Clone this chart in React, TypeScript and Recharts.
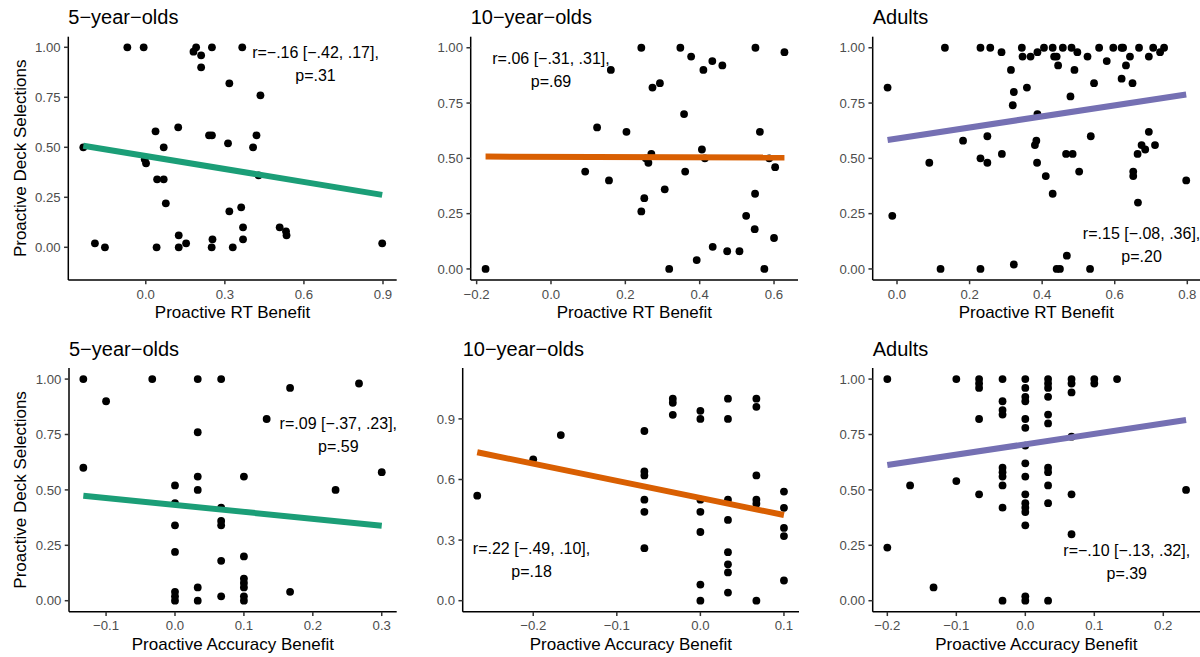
import React from 'react';
import { ScatterChart, Scatter, XAxis, YAxis, ReferenceDot } from 'recharts';

const FONT = '"Liberation Sans", Arial, Helvetica, sans-serif';
const MINUS = '\u2212';

type Pt = [number, number];

// Group colours for the fitted lines
const GREEN = '#1B9E77';
const ORANGE = '#D95F02';
const PURPLE = '#7570B3';

const groupTitles = ['5\u2212year\u2212olds', '10\u2212year\u2212olds', 'Adults'];
const rtAxisTitle = 'Proactive RT Benefit';
const accAxisTitle = 'Proactive Accuracy Benefit';
const deckAxisTitle = 'Proactive Deck Selections';

// RT benefit vs. deck selections
const rt5: Pt[] = [
  [-0.07, 1.0], [-0.008, 1.0], [0.181, 0.978], [0.191, 1.0], [0.21, 0.96], [0.251, 1.0],
  [0.366, 1.0], [0.21, 0.9], [0.317, 0.82], [0.435, 0.76], [0.123, 0.6], [0.037, 0.58],
  [0.24, 0.56], [0.251, 0.56], [0.42, 0.56], [0.312, 0.52], [0.407, 0.5], [0.068, 0.5],
  [-0.237, 0.5], [-0.004, 0.44], [0.001, 0.42], [0.043, 0.34], [0.068, 0.34], [0.428, 0.36],
  [0.076, 0.22], [0.317, 0.18], [0.362, 0.2], [0.369, 0.1], [0.369, 0.04], [0.508, 0.1],
  [0.532, 0.08], [0.534, 0.06], [-0.193, 0.02], [-0.155, 0.0], [0.041, 0.0], [0.125, 0.06],
  [0.125, 0.0], [0.153, 0.02], [0.253, 0.04], [0.25, 0.0], [0.33, 0.0], [0.897, 0.02],
];
const rt5Fit: Pt[] = [[-0.237, 0.508], [0.897, 0.262]];
const rt5Stats = ['r=\u2212.16 [\u2212.42, .17],', 'p=.31'];

const rt10: Pt[] = [
  [-0.176, 0.0], [0.092, 0.44], [0.124, 0.64], [0.161, 0.9], [0.156, 0.4], [0.203, 0.62],
  [0.243, 1.0], [0.243, 0.26], [0.251, 0.32], [0.273, 0.82], [0.293, 0.84], [0.27, 0.52],
  [0.262, 0.48], [0.255, 0.5], [0.306, 0.36], [0.318, 0.0], [0.348, 1.0], [0.377, 0.96],
  [0.358, 0.7], [0.361, 0.44], [0.392, 0.04], [0.406, 0.54], [0.41, 0.9], [0.414, 0.5],
  [0.434, 0.94], [0.435, 0.1], [0.461, 0.92], [0.474, 0.08], [0.507, 0.08], [0.525, 0.24],
  [0.548, 0.18], [0.549, 0.34], [0.55, 1.0], [0.562, 0.62], [0.574, 0.0], [0.587, 0.5],
  [0.603, 0.46], [0.6, 0.14], [0.628, 0.98],
];
const rt10Fit: Pt[] = [[-0.176, 0.508], [0.628, 0.504]];
const rt10Stats = ['r=.06 [\u2212.31, .31],', 'p=.69'];

const rtAdult: Pt[] = [
  [-0.026, 0.82], [-0.013, 0.24], [0.089, 0.48], [0.12, 0.0], [0.132, 1.0], [0.182, 0.58],
  [0.23, 1.0], [0.23, 0.5], [0.23, 0.0], [0.249, 0.6], [0.249, 0.48], [0.257, 1.0],
  [0.288, 0.98], [0.289, 0.52], [0.314, 0.9], [0.322, 0.8], [0.319, 0.74], [0.322, 0.02],
  [0.344, 1.0], [0.346, 0.96], [0.358, 0.82], [0.368, 0.96], [0.387, 0.98], [0.38, 0.56],
  [0.384, 0.58], [0.387, 0.7], [0.386, 0.48], [0.405, 1.0], [0.41, 0.42], [0.429, 1.0],
  [0.433, 0.96], [0.44, 0.96], [0.444, 0.92], [0.429, 0.34], [0.44, 0.0], [0.449, 0.0],
  [0.468, 0.06], [0.457, 1.0], [0.478, 0.78], [0.466, 0.52], [0.484, 0.52], [0.481, 1.0],
  [0.497, 0.98], [0.489, 0.9], [0.502, 0.44], [0.525, 0.96], [0.532, 0.0], [0.534, 0.6],
  [0.543, 0.84], [0.557, 1.0], [0.578, 0.94], [0.596, 1.0], [0.619, 1.0], [0.623, 1.0],
  [0.619, 0.86], [0.631, 0.92], [0.642, 0.96], [0.649, 0.84], [0.651, 0.44], [0.651, 0.42],
  [0.664, 0.3], [0.663, 0.52], [0.667, 1.0], [0.674, 0.56], [0.684, 0.54], [0.694, 0.62],
  [0.694, 0.96], [0.706, 1.0], [0.711, 0.56], [0.725, 0.98], [0.736, 1.0], [0.797, 0.4],
];
const rtAdultFit: Pt[] = [[-0.026, 0.583], [0.797, 0.789]];
const rtAdultStats = ['r=.15 [\u2212.08, .36],', 'p=.20'];

// Accuracy benefit vs. deck selections
const acc5: Pt[] = [
  [-0.133, 1.0], [-0.133, 0.6], [-0.1, 0.9], [-0.033, 1.0], [0.033, 1.0], [0.067, 1.0],
  [0.033, 0.76], [0.033, 0.56], [0.033, 0.5], [0.0, 0.52], [0.0, 0.44], [0.0, 0.34],
  [0.0, 0.22], [0.0, 0.04], [0.0, 0.02], [0.0, 0.0], [0.033, 0.06], [0.033, 0.0],
  [0.067, 0.42], [0.067, 0.36], [0.067, 0.34], [0.067, 0.18], [0.067, 0.02], [0.1, 0.56],
  [0.1, 0.2], [0.1, 0.1], [0.1, 0.08], [0.1, 0.06], [0.1, 0.02], [0.1, 0.0],
  [0.133, 0.82], [0.167, 0.96], [0.167, 0.04], [0.233, 0.5], [0.267, 0.98], [0.3, 0.58],
];
const acc5Fit: Pt[] = [[-0.133, 0.474], [0.3, 0.338]];
const acc5Stats = ['r=.09 [\u2212.37, .23],', 'p=.59'];

const acc10: Pt[] = [
  [-0.267, 0.52], [-0.2, 0.7], [-0.167, 0.82], [-0.067, 0.84], [-0.067, 0.64], [-0.067, 0.62],
  [-0.067, 0.5], [-0.067, 0.44], [-0.067, 0.26], [-0.033, 1.0], [-0.033, 0.98], [-0.033, 0.92],
  [0.0, 0.94], [0.0, 0.9], [0.0, 0.5], [0.0, 0.44], [0.0, 0.34], [0.0, 0.08], [0.0, 0.0],
  [0.033, 1.0], [0.033, 0.9], [0.033, 0.5], [0.033, 0.4], [0.033, 0.24], [0.033, 0.18],
  [0.033, 0.14], [0.033, 0.04], [0.067, 1.0], [0.067, 0.96], [0.067, 0.62], [0.067, 0.5],
  [0.067, 0.48], [0.067, 0.0], [0.1, 0.54], [0.1, 0.46], [0.1, 0.36], [0.1, 0.32], [0.1, 0.1],
];
const acc10Fit: Pt[] = [[-0.267, 0.735], [0.1, 0.424]];
const acc10Stats = ['r=.22 [\u2212.49, .10],', 'p=.18'];

const accAdult: Pt[] = [
  [-0.2, 1.0], [-0.2, 0.24], [-0.167, 0.52], [-0.133, 0.06], [-0.1, 1.0], [-0.1, 0.54],
  [-0.067, 1.0], [-0.067, 0.98], [-0.067, 0.96], [-0.067, 0.82], [-0.067, 0.48],
  [-0.033, 1.0], [-0.033, 0.9], [-0.033, 0.86], [-0.033, 0.84], [-0.033, 0.6], [-0.033, 0.58],
  [-0.033, 0.56], [-0.033, 0.52], [-0.033, 0.42], [-0.033, 0.0],
  [0.0, 1.0], [0.0, 0.96], [0.0, 0.92], [0.0, 0.9], [0.0, 0.82], [0.0, 0.78], [0.0, 0.7],
  [0.0, 0.62], [0.0, 0.56], [0.0, 0.48], [0.0, 0.44], [0.0, 0.42], [0.0, 0.4], [0.0, 0.34],
  [0.0, 0.02], [0.0, 0.0],
  [0.033, 1.0], [0.033, 0.98], [0.033, 0.96], [0.033, 0.92], [0.033, 0.84], [0.033, 0.8],
  [0.033, 0.6], [0.033, 0.58], [0.033, 0.52], [0.033, 0.44], [0.033, 0.0],
  [0.067, 1.0], [0.067, 0.98], [0.067, 0.94], [0.067, 0.74], [0.067, 0.48], [0.067, 0.3],
  [0.1, 1.0], [0.1, 0.98], [0.133, 1.0], [0.233, 0.5],
];
const accAdultFit: Pt[] = [[-0.2, 0.612], [0.233, 0.815]];
const accAdultStats = ['r=\u2212.10 [\u2212.13, .32],', 'p=.39'];

// Axis ticks
const deckTicks = [0, 0.25, 0.5, 0.75, 1];
const deckTicksCoarse = [0, 0.3, 0.6, 0.9];
const rt5Ticks = [0, 0.3, 0.6, 0.9];
const rt10Ticks = [-0.2, 0, 0.2, 0.4, 0.6];
const rtAdultTicks = [0, 0.2, 0.4, 0.6, 0.8];
const acc5Ticks = [-0.1, 0, 0.1, 0.2, 0.3];
const acc10Ticks = [-0.2, -0.1, 0, 0.1];
const accAdultTicks = [-0.2, -0.1, 0, 0.1, 0.2];

const fmt = (digits: number) => (v: number) =>
  (v < -1e-9 ? MINUS : '') + Math.abs(v).toFixed(digits);

const toRows = (pts: Pt[]) => pts.map(([x, y]) => ({ x, y }));

interface PanelProps {
  box: { left: number; top: number; width: number; height: number };
  plot: { left: number; right: number; top: number; bottom: number };
  title: string;
  xTitle: string;
  yTitle?: string;
  xDomain: [number, number];
  yDomain: [number, number];
  xTicks: number[];
  yTicks: number[];
  yDigits: number;
  points: Pt[];
  fit: Pt[];
  color: string;
  stats: string[];
  statsAt: Pt;
}

const Panel = (p: PanelProps) => {
  const { box, plot } = p;
  const margin = {
    top: plot.top - box.top,
    left: 0,
    right: box.left + box.width - plot.right,
    bottom: 0,
  };
  const yAxisWidth = plot.left - box.left;
  const xAxisHeight = box.top + box.height - plot.bottom;
  const tickStyle = { fill: '#4D4D4D', fontSize: 13.2, fontFamily: FONT };
  const axisLine = { stroke: '#000', strokeWidth: 1.5 };
  const tickLine = { stroke: '#333', strokeWidth: 1.5 };

  return (
    <div style={{ position: 'absolute', left: box.left, top: box.top, width: box.width, height: box.height }}>
      <ScatterChart width={box.width} height={box.height} margin={margin}>
        <XAxis
          type="number"
          dataKey="x"
          domain={p.xDomain}
          ticks={p.xTicks}
          interval={0}
          allowDataOverflow
          height={xAxisHeight}
          tickFormatter={fmt(1)}
          tick={tickStyle}
          tickSize={4.25}
          tickMargin={5}
          axisLine={axisLine}
          tickLine={tickLine}
          label={{
            content: (lp: any) => {
              const vb = lp.viewBox;
              return (
                <text x={vb.x + vb.width / 2} y={vb.y + 38} textAnchor="middle" fontSize={17} fontFamily={FONT} fill="#000">
                  {p.xTitle}
                </text>
              );
            },
          }}
        />
        <YAxis
          type="number"
          dataKey="y"
          domain={p.yDomain}
          ticks={p.yTicks}
          interval={0}
          allowDataOverflow
          width={yAxisWidth}
          tickFormatter={fmt(p.yDigits)}
          tick={tickStyle}
          tickSize={4.25}
          tickMargin={3.4}
          axisLine={axisLine}
          tickLine={tickLine}
          label={
            p.yTitle
              ? {
                  content: (lp: any) => {
                    const vb = lp.viewBox;
                    const cx = vb.x + 26;
                    const cy = vb.y + vb.height / 2;
                    return (
                      <text x={cx} y={cy} transform={`rotate(-90 ${cx} ${cy})`} textAnchor="middle" fontSize={17} fontFamily={FONT} fill="#000">
                        {p.yTitle}
                      </text>
                    );
                  },
                }
              : undefined
          }
        />
        <Scatter
          data={toRows(p.points)}
          fill="#000"
          isAnimationActive={false}
          shape={(sp: any) => <circle cx={sp.cx} cy={sp.cy} r={3.9} fill="#000" />}
        />
        <Scatter
          data={toRows(p.fit)}
          fill={p.color}
          line={{ stroke: p.color, strokeWidth: 6 }}
          isAnimationActive={false}
          shape={() => <g />}
        />
        <ReferenceDot
          x={p.statsAt[0]}
          y={p.statsAt[1]}
          r={0}
          shape={(sp: any) => (
            <text textAnchor="middle" fontSize={16} fontFamily={FONT} fill="#000">
              <tspan x={sp.cx} y={sp.cy - 6.5}>{p.stats[0]}</tspan>
              <tspan x={sp.cx} y={sp.cy + 16.5}>{p.stats[1]}</tspan>
            </text>
          )}
        />
      </ScatterChart>
      <svg width={box.width} height={box.height} style={{ position: 'absolute', left: 0, top: 0, pointerEvents: 'none' }}>
        <text x={plot.left - box.left} y={plot.top - box.top - 12.5} fontSize={20} fontFamily={FONT} fill="#000">
          {p.title}
        </text>
      </svg>
    </div>
  );
};

const App = () => (
  <div style={{ position: 'absolute', left: 0, top: 0, width: 1200, height: 657, background: '#fff', overflow: 'hidden' }}>
    <Panel
      box={{ left: 0, top: 0, width: 400, height: 330 }}
      plot={{ left: 68.3, right: 396.7, top: 36.7, bottom: 280 }}
      title={groupTitles[0]}
      xTitle={rtAxisTitle}
      yTitle={deckAxisTitle}
      xDomain={[-0.294, 0.952]}
      yDomain={[-0.1635, 1.053]}
      xTicks={rt5Ticks}
      yTicks={deckTicks}
      yDigits={2}
      points={rt5}
      fit={rt5Fit}
      color={GREEN}
      stats={rt5Stats}
      statsAt={[0.644, 0.9155]}
    />
    <Panel
      box={{ left: 400, top: 0, width: 400, height: 330 }}
      plot={{ left: 470.7, right: 798, top: 36.7, bottom: 280 }}
      title={groupTitles[1]}
      xTitle={rtAxisTitle}
      xDomain={[-0.216, 0.6645]}
      yDomain={[-0.05, 1.05]}
      xTicks={rt10Ticks}
      yTicks={deckTicks}
      yDigits={2}
      points={rt10}
      fit={rt10Fit}
      color={ORANGE}
      stats={rt10Stats}
      statsAt={[0.0, 0.895]}
    />
    <Panel
      box={{ left: 800, top: 0, width: 400, height: 330 }}
      plot={{ left: 872.7, right: 1200, top: 36.7, bottom: 280 }}
      title={groupTitles[2]}
      xTitle={rtAxisTitle}
      xDomain={[-0.067, 0.835]}
      yDomain={[-0.05, 1.05]}
      xTicks={rtAdultTicks}
      yTicks={deckTicks}
      yDigits={2}
      points={rtAdult}
      fit={rtAdultFit}
      color={PURPLE}
      stats={rtAdultStats}
      statsAt={[0.674, 0.104]}
    />
    <Panel
      box={{ left: 0, top: 330, width: 400, height: 327 }}
      plot={{ left: 69, right: 396.7, top: 368, bottom: 611.8 }}
      title={groupTitles[0]}
      xTitle={accAxisTitle}
      yTitle={deckAxisTitle}
      xDomain={[-0.1538, 0.3217]}
      yDomain={[-0.05, 1.05]}
      xTicks={acc5Ticks}
      yTicks={deckTicks}
      yDigits={2}
      points={acc5}
      fit={acc5Fit}
      color={GREEN}
      stats={acc5Stats}
      statsAt={[0.237, 0.745]}
    />
    <Panel
      box={{ left: 400, top: 330, width: 400, height: 327 }}
      plot={{ left: 462.7, right: 799, top: 368, bottom: 611.8 }}
      title={groupTitles[1]}
      xTitle={accAxisTitle}
      xDomain={[-0.2844, 0.118]}
      yDomain={[-0.055, 1.152]}
      xTicks={acc10Ticks}
      yTicks={deckTicksCoarse}
      yDigits={1}
      points={acc10}
      fit={acc10Fit}
      color={ORANGE}
      stats={acc10Stats}
      statsAt={[-0.202, 0.199]}
    />
    <Panel
      box={{ left: 800, top: 330, width: 400, height: 327 }}
      plot={{ left: 872.7, right: 1200, top: 368, bottom: 611.8 }}
      title={groupTitles[2]}
      xTitle={accAxisTitle}
      xDomain={[-0.2212, 0.2532]}
      yDomain={[-0.05, 1.05]}
      xTicks={accAdultTicks}
      yTicks={deckTicks}
      yDigits={2}
      points={accAdult}
      fit={accAdultFit}
      color={PURPLE}
      stats={accAdultStats}
      statsAt={[0.147, 0.173]}
    />
  </div>
);

export default App;
